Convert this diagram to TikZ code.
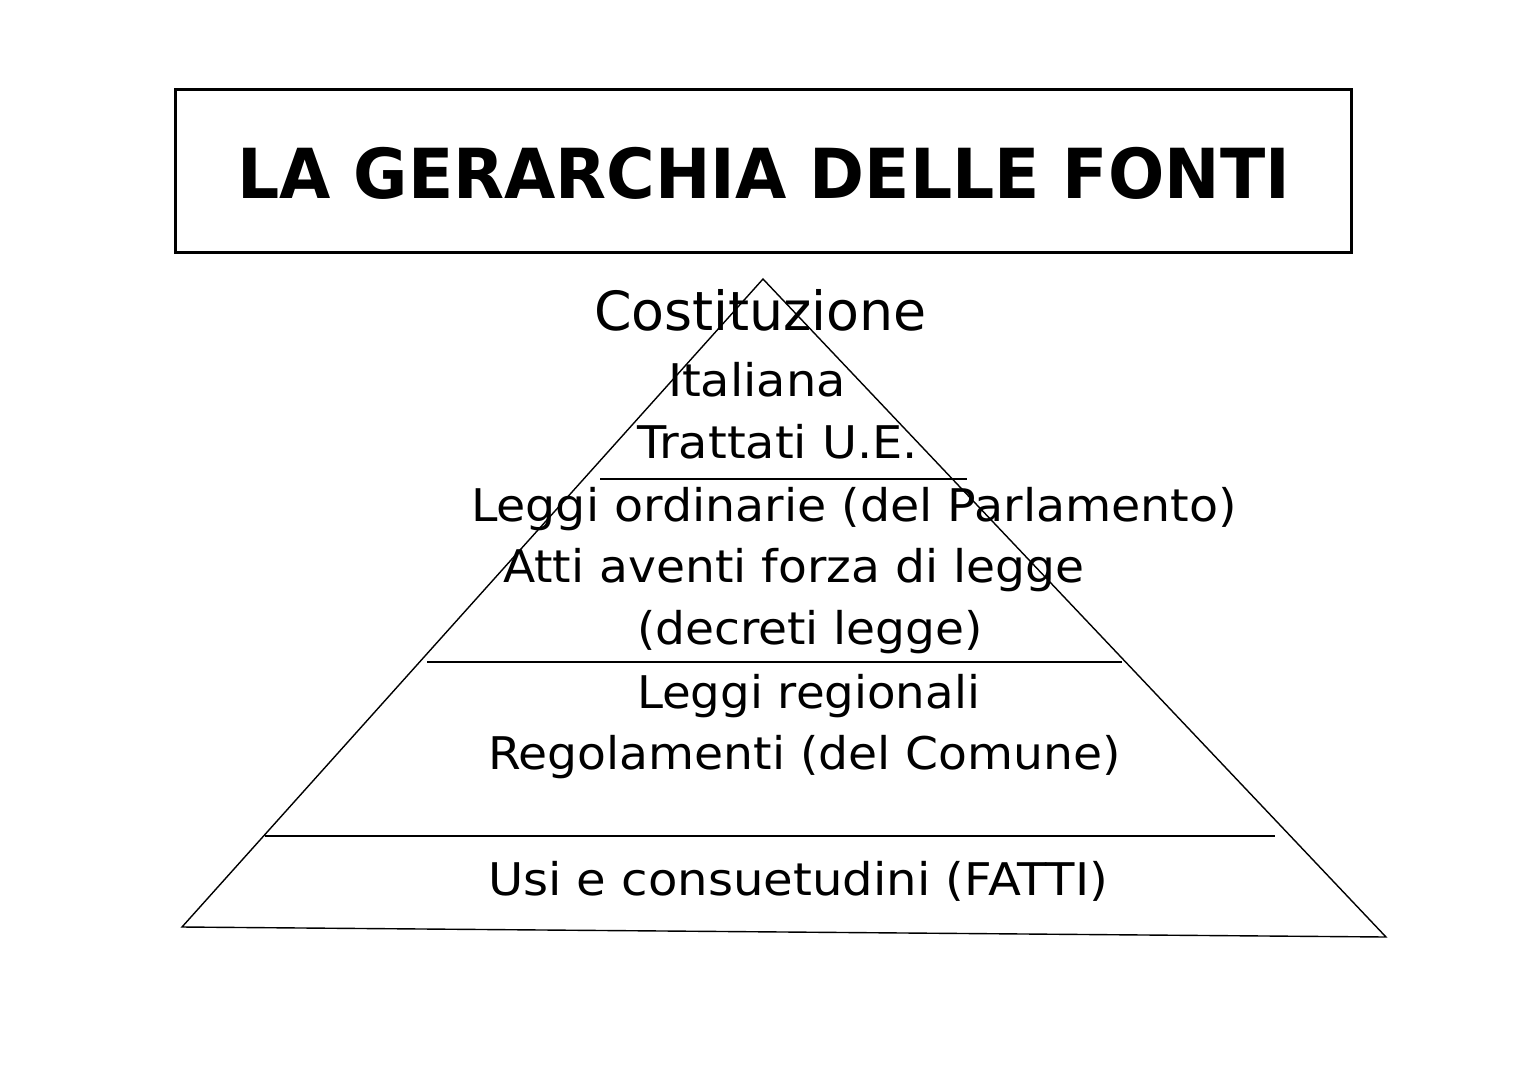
\documentclass[tikz,border=0pt]{standalone}
\usepackage{fontspec}
\usepackage{graphicx}
\setmainfont{DejaVu Sans}
\tikzset{
  txt/.style={anchor=base west, inner sep=0pt, outer sep=0pt},
  thin line/.style={line width=1.4pt, draw=black},
}
\newcommand{\bodyline}[3]{\resizebox{#1pt}{\height}{\fontsize{#2}{#2}\selectfont #3}}
\begin{document}
\begin{tikzpicture}[x=1pt,y=-1pt]
\useasboundingbox (0,0) rectangle (1527,1080);
\fill[white] (0,0) rectangle (1527,1080);
% title box
\draw[line width=3pt] (175,89) rectangle (1351,252);
\node[txt] (title) at (237,198) {\resizebox{1053pt}{\height}{\fontsize{69}{69}\selectfont\bfseries LA GERARCHIA DELLE FONTI}};
% pyramid
\coordinate (apex) at (763,279);
\coordinate (bl) at (182,927);
\coordinate (br) at (1386,937);
\draw[thin line] (bl) -- (apex) -- (br) -- cycle;
\coordinate (l1a) at (600,479); \coordinate (l1b) at (967,479);
\coordinate (l2a) at (427,662); \coordinate (l2b) at (1122,662);
\coordinate (l3a) at (265,836); \coordinate (l3b) at (1275,836);
\draw[thin line] (l1a) -- (l1b);
\draw[thin line] (l2a) -- (l2b);
\draw[thin line] (l3a) -- (l3b);
% texts
\node[txt] (cost) at (594,330) {\bodyline{333}{54}{Costituzione}};
\node[txt] (ital) at (668,396) {\bodyline{178}{45}{Italiana}};
\node[txt] (tratt) at (637,458) {\bodyline{281}{45}{Trattati U.E.}};
\node[txt] (leggi) at (471,521) {\bodyline{766}{45}{Leggi ordinarie (del Parlamento)}};
\node[txt] (atti) at (503,582) {\bodyline{581}{45}{Atti aventi forza di legge}};
\node[txt] (decr) at (637,644) {\bodyline{346}{45}{(decreti legge)}};
\node[txt] (reg) at (637,708) {\bodyline{343}{45}{Leggi regionali}};
\node[txt] (rego) at (488,769) {\bodyline{633}{45}{Regolamenti (del Comune)}};
\node[txt] (usi) at (488,895) {\bodyline{620}{45}{Usi e consuetudini (FATTI)}};
\end{tikzpicture}
\end{document}
